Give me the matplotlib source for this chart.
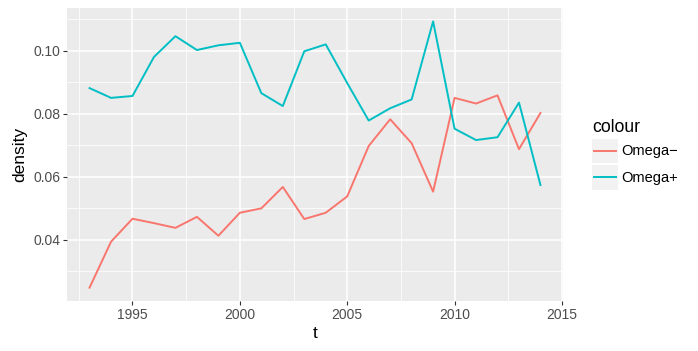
import numpy as np
import matplotlib.pyplot as plt
from matplotlib.patches import Rectangle
from matplotlib.lines import Line2D

plt.rcParams['font.family'] = ['Liberation Sans', 'DejaVu Sans']

years = np.arange(1993, 2015)
omega_minus = [0.0247, 0.0393, 0.0466, 0.0452, 0.0437, 0.0472, 0.0412, 0.0485,
               0.0499, 0.0567, 0.0465, 0.0485, 0.0537, 0.0697, 0.0782, 0.0706,
               0.0552, 0.0850, 0.0832, 0.0858, 0.0687, 0.0802]
omega_plus = [0.0881, 0.0850, 0.0856, 0.0980, 0.1046, 0.1002, 0.1017, 0.1025,
              0.0865, 0.0824, 0.0998, 0.1020, 0.0897, 0.0778, 0.0817, 0.0845,
              0.1093, 0.0752, 0.0716, 0.0725, 0.0835, 0.0573]
labels = ['Omega\u2212', 'Omega+']
colors = ['#F8766D', '#00BFC4']


class KeyHandler:
    # ggplot-like legend key: grey box with a centred line
    def legend_artist(self, legend, orig_handle, fontsize, handlebox):
        x0, y0 = handlebox.xdescent, handlebox.ydescent
        w, h = handlebox.width, handlebox.height
        tr = handlebox.get_transform()
        rect = Rectangle((-x0, -y0), w, h, facecolor='#F2F2F2',
                         edgecolor='none', transform=tr)
        line = Line2D([-x0 + 0.08 * w, -x0 + 0.92 * w], [-y0 + h / 2] * 2,
                      color=orig_handle.get_color(), lw=1.4, transform=tr)
        handlebox.add_artist(rect)
        handlebox.add_artist(line)
        return line


fig = plt.figure(figsize=(6.98, 3.51), dpi=100)
ax = fig.add_axes([0.096, 0.1425, 0.7106, 0.8345])
ax.set_facecolor('#EBEBEB')

l1, = ax.plot(years, omega_minus, color=colors[0], lw=1.4, zorder=3)
l2, = ax.plot(years, omega_plus, color=colors[1], lw=1.4, zorder=3)

# ggplot style expansion
x0, x1 = years.min(), years.max()
ax.set_xlim(x0 - 0.05 * (x1 - x0), x1 + 0.05 * (x1 - x0))
allv = omega_minus + omega_plus
y0, y1 = min(allv), max(allv)
ax.set_ylim(y0 - 0.05 * (y1 - y0), y1 + 0.05 * (y1 - y0))

ax.set_xticks([1995, 2000, 2005, 2010, 2015])
ax.set_xticks([1992.5, 1997.5, 2002.5, 2007.5, 2012.5], minor=True)
ax.set_yticks([0.04, 0.06, 0.08, 0.10])
ax.set_yticks([0.03, 0.05, 0.07, 0.09, 0.11], minor=True)
ax.set_yticklabels(['0.04', '0.06', '0.08', '0.10'])
ax.grid(which='major', color='white', lw=1.1, zorder=1)
ax.grid(which='minor', color='white', lw=0.55, zorder=1)
ax.set_axisbelow(True)
for s in ax.spines.values():
    s.set_visible(False)
ax.tick_params(which='major', length=3, width=0.8, color='#333333',
               labelcolor='#4D4D4D', labelsize=10, pad=2)
ax.tick_params(which='minor', length=0)

ax.set_xlabel('t', fontsize=12.5, labelpad=3)
ax.set_ylabel('density', fontsize=12.5, labelpad=4)

leg = ax.legend([l1, l2], labels, title='colour', loc='center left',
                bbox_to_anchor=(1.058, 0.5), frameon=False, fontsize=10.5,
                title_fontsize=12.7, handlelength=1.78, handleheight=2.2,
                labelspacing=0.15, handletextpad=0.27, borderaxespad=0,
                borderpad=0, handler_map={Line2D: KeyHandler()})
leg._legend_box.align = 'left'

fig.savefig('out.png', dpi=100)
